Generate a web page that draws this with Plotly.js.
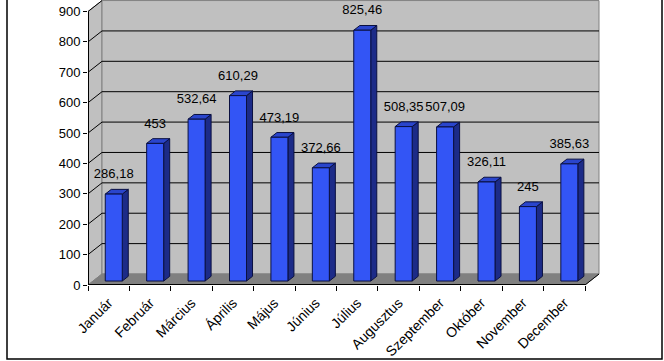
<!DOCTYPE html>
<html><head><meta charset="utf-8">
<script src="https://cdn.plot.ly/plotly-3.0.1.min.js"></script>
<style>html,body{margin:0;padding:0;background:#fff;}#chart{width:664px;height:361px;}</style>
</head><body><div id="chart"></div>
<script>
const months = ['Január','Február','Március','Április','Május','Június','Július','Augusztus','Szeptember','Október','November','December'];
const values = [286.18, 453, 532.64, 610.29, 473.19, 372.66, 825.46, 508.35, 507.09, 326.11, 245, 385.63];
const valueLabels = ['286,18','453','532,64','610,29','473,19','372,66','825,46','508,35','507,09','326,11','245','385,63'];
const yTicks = [0,100,200,300,400,500,600,700,800,900];

// plot geometry (pixels)
const L = 88, W = 512, T = 0, H = 285, FIG_W = 664, FIG_H = 361;
const xRange = [-0.5, 11.862], yRange = [0, 938];
const kx = W / (xRange[1] - xRange[0]);
const ky = H / (yRange[1] - yRange[0]);
const DX = 14 / kx, DY = 11 / ky;          // depth of 3D box in data units
const n = months.length;
const xs = months.map((_, i) => i);
const yMax = yTicks[yTicks.length - 1];

// bar geometry
const bw = 17 / kx;
const f0 = 0.36, f1 = 0.79;
const a0 = f0 * DX, b0 = f0 * DY, a1 = f1 * DX, b1 = f1 * DY;
const labelOff = 19 / ky;

const traces = [];
function addPoly(polys, fill, line, lw) {
  const x = [], y = [];
  polys.forEach(p => { p.forEach(q => { x.push(q[0]); y.push(q[1]); }); x.push(p[0][0]); y.push(p[0][1]); x.push(null); y.push(null); });
  traces.push({type:'scatter', mode:'lines', x, y, fill:'toself', fillcolor:fill,
    line:{color:line, width:lw}, hoverinfo:'skip', showlegend:false});
}
function addLines(segs, color, lw) {
  const x = [], y = [];
  segs.forEach(s => { s.forEach(q => { x.push(q[0]); y.push(q[1]); }); x.push(null); y.push(null); });
  traces.push({type:'scatter', mode:'lines', x, y, line:{color, width:lw}, hoverinfo:'skip', showlegend:false});
}

const x0 = -0.5, x1 = n - 0.5;
// side wall
addPoly([[[x0,0],[x0+DX,DY],[x0+DX,yMax+DY],[x0,yMax]]], '#c0c0c0', '#808080', 1);
// back wall
addPoly([[[x0+DX,DY],[x1+DX,DY],[x1+DX,yMax+DY],[x0+DX,yMax+DY]]], '#c0c0c0', '#808080', 1);
// floor
addPoly([[[x0,0],[x1,0],[x1+DX,DY],[x0+DX,DY]]], '#808080', '#808080', 1);
// gridlines
const grid = [];
yTicks.forEach(v => {
  if (v === 0) return;
  if (v === yMax) grid.push([[x0,v],[x0+DX,v+DY]]);
  else grid.push([[x0,v],[x0+DX,v+DY],[x1+DX,v+DY]]);
});
addLines(grid, '#000000', 1);
// axis lines (front)
addLines([[[x0,yMax],[x0,0],[x1,0]]], '#000000', 2);
addLines([[[x1,0],[x1+DX,DY]]], '#000000', 1);

// bars
const sides = [], tops = [], fronts = [];
xs.forEach((i, k) => {
  const v = values[k];
  const l = i - bw/2, r = i + bw/2;
  fronts.push([[l+a0,b0],[r+a0,b0],[r+a0,v+b0],[l+a0,v+b0]]);
  sides.push([[r+a0,b0],[r+a1,b1],[r+a1,v+b1],[r+a0,v+b0]]);
  tops.push([[l+a0,v+b0],[r+a0,v+b0],[r+a1,v+b1],[l+a1,v+b1]]);
});
addPoly(sides, '#1c2b88', '#0a1040', 1);
addPoly(tops, '#2a45cc', '#0a1040', 1);
addPoly(fronts, '#3355f5', '#0a1040', 1);

// value labels
traces.push({type:'scatter', mode:'text', x: xs.map(i => i + a0), y: values.map(v => v + b0 + labelOff),
  text: valueLabels, textposition:'middle center', cliponaxis:false,
  textfont:{family:'Liberation Sans, Arial, sans-serif', size:13, color:'#000'}, hoverinfo:'skip', showlegend:false});

// boundary ticks carrier (invisible)
traces.push({type:'scatter', mode:'markers', x:[0], y:[0], xaxis:'x2', marker:{opacity:0}, hoverinfo:'skip', showlegend:false});

const px = p => (p - L) / W, py = p => (T + H - p) / H;
const layout = {
  width: FIG_W, height: FIG_H,
  margin: {l: L, r: FIG_W - L - W, t: T, b: FIG_H - T - H},
  paper_bgcolor: '#fff', plot_bgcolor: 'rgba(0,0,0,0)',
  showlegend: false,
  font: {family: 'Liberation Sans, Arial, sans-serif', color: '#000'},
  xaxis: {range: xRange, tickvals: xs, ticktext: months, tickangle: -45, ticks: '', showgrid: false,
    zeroline: false, showline: false, tickfont: {size: 14, color: '#000'}, ticklabelstandoff: 6, fixedrange: true},
  xaxis2: {range: xRange, overlaying: 'x', anchor: 'y', side: 'bottom',
    tickvals: xs.map(i => i - 0.5).concat([n - 0.5]), ticks: 'outside', ticklen: 5, tickcolor: '#000',
    showticklabels: false, showgrid: false, zeroline: false, showline: false, fixedrange: true},
  yaxis: {range: yRange, tickvals: yTicks, ticktext: yTicks.map(String), ticks: 'outside', ticklen: 4, tickcolor: '#000',
    showgrid: false, zeroline: false, showline: false, tickfont: {size: 13, color: '#000'}, fixedrange: true},
  shapes: [{type: 'rect', xref: 'paper', yref: 'paper', x0: px(7), x1: px(662), y0: py(359), y1: py(-10),
    line: {color: '#000', width: 1.5}, fillcolor: 'rgba(0,0,0,0)'}]
};
Plotly.newPlot('chart', traces, layout, {staticPlot: true, displayModeBar: false});
</script></body></html>
